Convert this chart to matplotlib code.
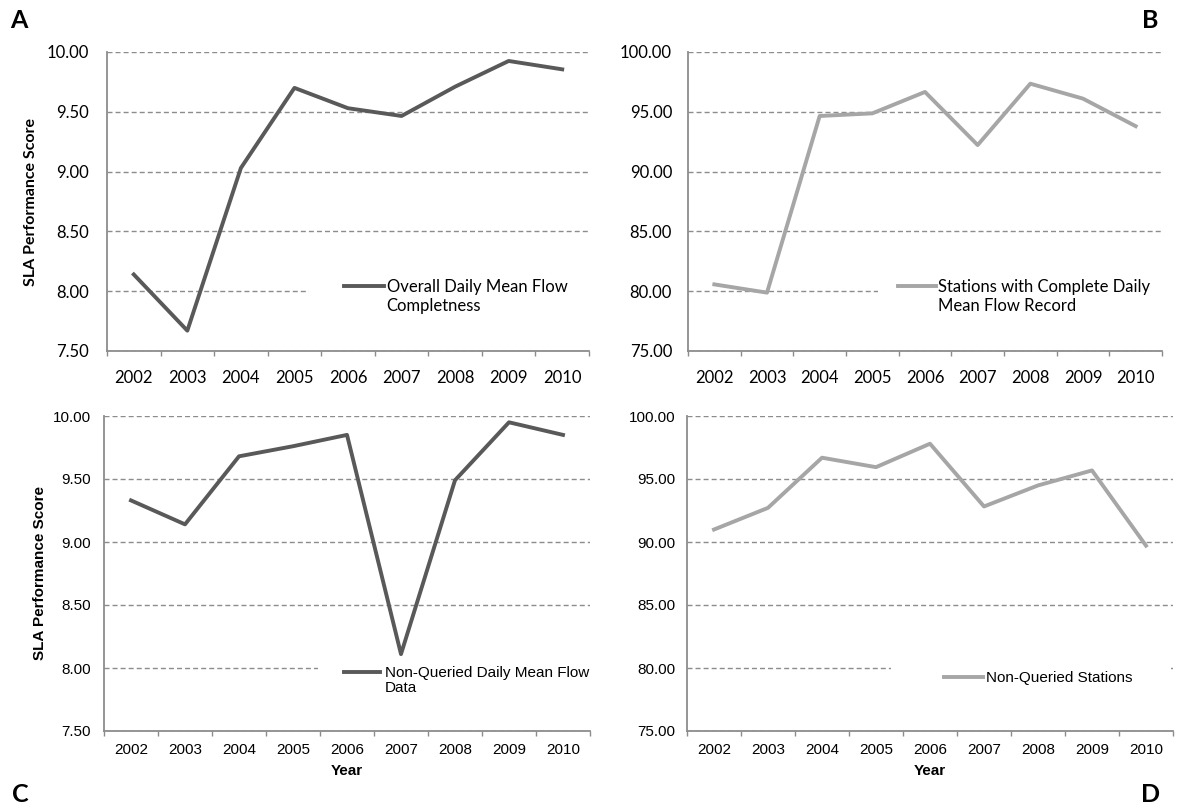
import matplotlib
matplotlib.use('Agg')
import numpy as np
import matplotlib.pyplot as plt
from matplotlib.patches import Rectangle
from matplotlib.ticker import NullFormatter

# data
years = ['2002', '2003', '2004', '2005', '2006', '2007', '2008', '2009', '2010']
flow_completeness = [8.14, 7.67, 9.03, 9.70, 9.53, 9.465, 9.71, 9.925, 9.855]
stations_complete = [80.57, 79.88, 94.65, 94.87, 96.66, 92.22, 97.35, 96.10, 93.80]
non_queried_flow = [9.33, 9.14, 9.68, 9.76, 9.85, 8.11, 9.49, 9.95, 9.85]
non_queried_stations = [90.99, 92.71, 96.69, 95.94, 97.80, 92.82, 94.49, 95.68, 89.71]

label_a = ['Overall Daily Mean Flow', 'Completness']
label_b = ['Stations with Complete Daily', 'Mean Flow Record']
label_c = ['Non-Queried Daily Mean Flow', 'Data']
label_d = ['Non-Queried Stations']

DARK = '#595959'
LIGHT = '#a6a6a6'
GRID = '#8c8c8c'
W, H = 1177, 810

fig = plt.figure(figsize=(W / 100, H / 100), dpi=100)


def px(left, top, right, bottom):
    # pixel box -> figure fraction rect
    return [left / W, 1 - bottom / H, (right - left) / W, (bottom - top) / H]


def panel(rect, values, ylim, ystep, color, label, font, fsize, leg_xy,
          handlelen, textpad, line2_off, mask_x, ypad, xpad):
    ax = fig.add_axes(rect)
    x = np.arange(len(years))
    ax.plot(x, values, color=color, lw=2.8, solid_joinstyle='round',
            label=label[0], zorder=2)
    ax.set_xlim(-0.5, len(years) - 0.5)
    ax.set_ylim(*ylim)
    yt = np.arange(ylim[0], ylim[1] + ystep / 2, ystep)
    ax.set_yticks(yt)
    ax.set_yticklabels(['%.2f' % v for v in yt], family=font, size=fsize)
    # category boundaries get the tick marks, centres get the labels
    ax.set_xticks(np.arange(-0.5, len(years), 1))
    ax.xaxis.set_major_formatter(NullFormatter())
    ax.set_xticks(x, minor=True)
    ax.set_xticklabels(years, minor=True, family=font, size=fsize)
    ax.tick_params(axis='x', which='major', length=3.6, width=1, color=GRID)
    ax.tick_params(axis='x', which='minor', length=0, pad=xpad)
    ax.tick_params(axis='y', length=0, pad=ypad)
    ax.grid(axis='y', color=GRID, ls=(0, (3.6, 2.2)), lw=1.0)
    ax.set_axisbelow(True)
    for s in ['top', 'right']:
        ax.spines[s].set_visible(False)
    for s in ['left', 'bottom']:
        ax.spines[s].set_color(GRID)
        ax.spines[s].set_linewidth(1.3)
    # white legend box hiding part of the lowest gridline
    ax.add_patch(Rectangle((mask_x[0], 0.1), mask_x[1] - mask_x[0], 0.2,
                           transform=ax.transAxes, fc='white', ec='none', zorder=1))
    leg = ax.legend(loc='center left', bbox_to_anchor=leg_xy, frameon=False,
                    borderpad=0, borderaxespad=0, handlelength=handlelen,
                    handletextpad=textpad, prop={'family': font, 'size': fsize})
    if len(label) > 1:
        ax.annotate(label[1], xy=(0, 0), xycoords=leg.get_texts()[0],
                    xytext=(0, line2_off), textcoords='offset points',
                    va='top', ha='left', family=font, size=fsize, zorder=6)
    return ax


ax_a = panel(px(107, 52, 589, 351), flow_completeness, (7.5, 10.0), 0.5, DARK,
             label_a, 'Lato', 12, (0.492, 0.214), 2.4, 0.15, -2.2, (0.42, 1.0), 13, 13.5)
ax_b = panel(px(688, 52, 1162, 351), stations_complete, (75, 100), 5, LIGHT,
             label_b, 'Lato', 12, (0.442, 0.214), 2.3, 0.15, -2.2, (0.40, 1.0), 11.5, 13.5)
ax_c = panel(px(104, 416, 590, 731), non_queried_flow, (7.5, 10.0), 0.5, DARK,
             label_c, 'Liberation Sans', 11, (0.493, 0.184), 2.4, 0.3, -1.0, (0.44, 1.0), 9.4, 8.6)
ax_d = panel(px(687, 416, 1173, 731), non_queried_stations, (75, 100), 5, LIGHT,
             label_d, 'Liberation Sans', 11, (0.529, 0.168), 2.55, 0.18, 0, (0.42, 0.995), 8.6, 8.6)

fig.text(31 / W, 1 - 202 / H, 'SLA Performance Score', rotation=90, ha='center',
         va='center', family='Lato', weight='bold', size=11.5)
fig.text(40 / W, 1 - 573 / H, 'SLA Performance Score', rotation=90, ha='center',
         va='center', family='Liberation Sans', weight='bold', size=11)
fig.text(347 / W, 1 - 771 / H, 'Year', ha='center', va='center',
         family='Liberation Sans', weight='bold', size=11)
fig.text(930 / W, 1 - 771 / H, 'Year', ha='center', va='center',
         family='Liberation Sans', weight='bold', size=11)

fig.text(10 / W, 1 - 28 / H, 'A', ha='left', va='baseline', family='Lato', weight='bold', size=18)
fig.text(1158 / W, 1 - 28 / H, 'B', ha='right', va='baseline', family='Lato', weight='bold', size=18)
fig.text(12 / W, 1 - 802 / H, 'C', ha='left', va='baseline', family='Lato', weight='bold', size=18)
fig.text(1160 / W, 1 - 802 / H, 'D', ha='right', va='baseline', family='Lato', weight='bold', size=18)

fig.canvas.draw()
fig.savefig('out.png', dpi=100, facecolor='white')
